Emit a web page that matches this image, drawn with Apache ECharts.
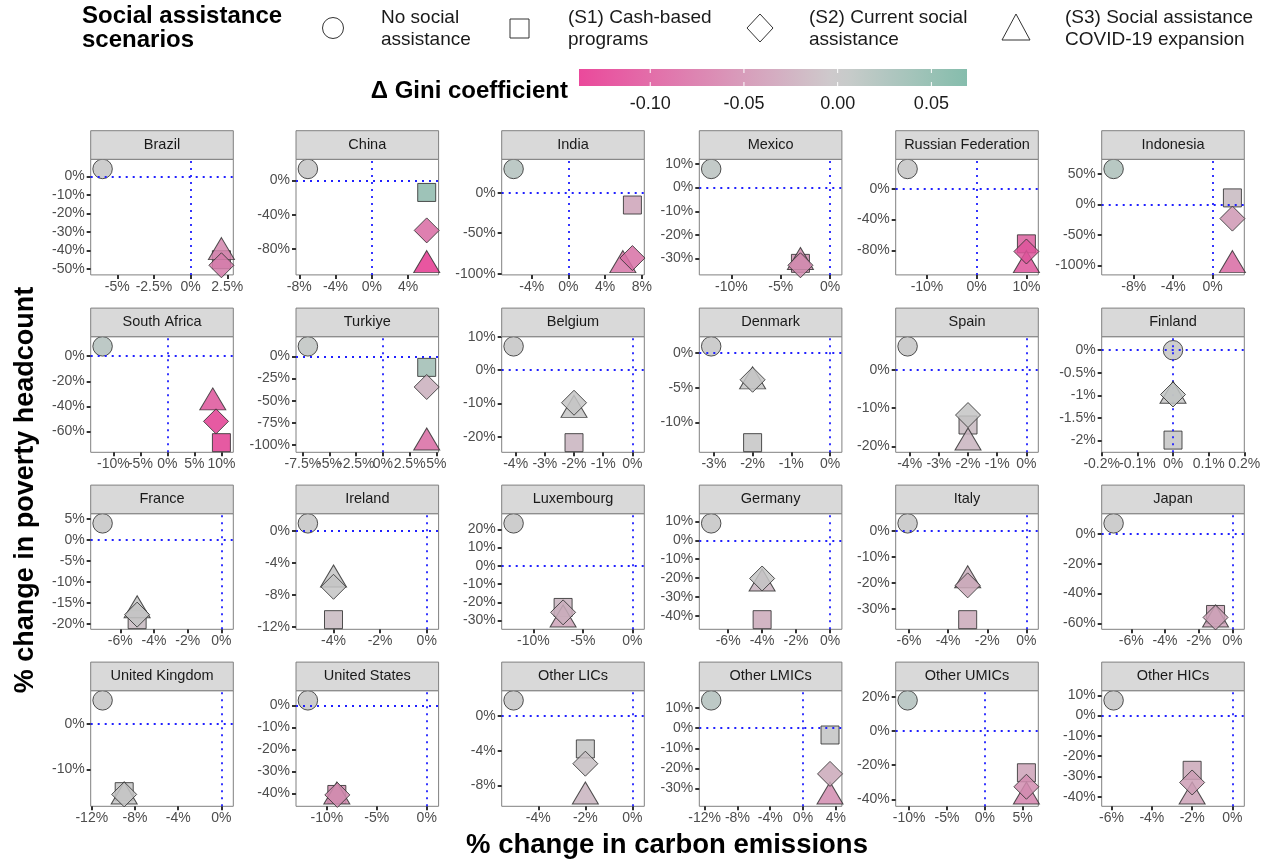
<!DOCTYPE html>
<html>
<head>
<meta charset="utf-8">
<script src="https://cdn.jsdelivr.net/npm/echarts@6/dist/echarts.min.js"></script>
<style>
  html, body { margin: 0; padding: 0; background: #ffffff; }
  #chart { width: 1265px; height: 863px; }
</style>
</head>
<body>
<div id="chart"></div>
<script>
// Panels, in facet order (6 per row)
const countries = [
  'Brazil', 'China', 'India', 'Mexico', 'Russian Federation', 'Indonesia',
  'South Africa', 'Turkiye', 'Belgium', 'Denmark', 'Spain', 'Finland',
  'France', 'Ireland', 'Luxembourg', 'Germany', 'Italy', 'Japan',
  'United Kingdom', 'United States', 'Other LICs', 'Other LMICs', 'Other UMICs', 'Other HICs'
];

// Each entry: [% change in carbon emissions, % change in poverty headcount, Δ Gini]
const noAssistance = [
  [-6.0, 4.0, 0.0], [-7.05, 13.5, 0.0], [-5.97, 29.3, 0.015], [-12.05, 7.9, 0.01], [-13.9, 25.5, 0.0], [-10.04, 58.0, 0.02],
  [-12.0, 7.9, 0.015], [-7.03, 11.3, 0.005], [-4.07, 7.15, 0.0], [-3.07, 0.96, 0.0], [-4.07, 6.1, 0.0], [0.0, 0.0, 0.0],
  [-7.05, 4.0, 0.0], [-5.1, 0.92, 0.0], [-12.0, 23.3, 0.0], [-7.0, 9.0, 0.0], [-6.07, 2.8, 0.0], [-7.05, 7.2, 0.0],
  [-11.0, 5.2, 0.0], [-11.9, 2.3, 0.0], [-5.05, 1.8, 0.0], [-11.2, 13.8, 0.015], [-10.2, 18.0, 0.015], [-5.9, 7.5, 0.0]
];
const cashBased = [
  [2.1, -45.0, -0.06], [6.05, -14.0, 0.045], [6.97, -15.2, -0.03], [-3.0, -32.0, -0.045], [10.0, -71.3, -0.09], [2.0, 10.5, -0.01],
  [10.0, -69.0, -0.12], [4.1, -12.4, 0.03], [-2.0, -21.8, -0.015], [-2.0, -12.9, 0.0], [-2.0, -14.4, -0.01], [0.0, -1.99, 0.0],
  [-5.0, -19.0, -0.01], [-4.0, -11.1, -0.01], [-7.0, -22.8, -0.015], [-4.0, -42.0, -0.025], [-3.0, -34.0, -0.025], [-1.0, -54.0, -0.03],
  [-9.0, -14.9, 0.0], [-9.0, -40.5, -0.05], [-2.0, -3.8, 0.0], [3.3, -3.4, 0.002], [5.5, -24.4, -0.03], [-2.0, -27.0, -0.025]
];
const currentAssistance = [
  [2.1, -48.0, -0.065], [6.05, -58.4, -0.08], [6.97, -80.6, -0.075], [-3.0, -32.8, -0.05], [10.0, -81.2, -0.1], [2.0, -23.5, -0.04],
  [9.0, -52.0, -0.12], [4.1, -34.5, -0.02], [-2.0, -9.8, 0.0], [-2.0, -3.85, 0.0], [-2.0, -11.8, 0.0], [0.0, -0.98, 0.003],
  [-5.0, -17.8, 0.0], [-4.0, -7.0, 0.0], [-7.0, -25.5, -0.02], [-4.0, -20.2, 0.0], [-3.0, -20.9, -0.025], [-1.0, -56.0, -0.03],
  [-9.0, -15.5, 0.0], [-8.95, -40.7, -0.05], [-2.0, -5.5, -0.005], [3.3, -22.7, -0.025], [5.5, -32.6, -0.05], [-2.0, -33.0, -0.035]
];
const covidExpansion = [
  [2.1, -41.0, -0.055], [6.05, -99.2, -0.125], [5.93, -89.5, -0.07], [-3.0, -31.5, -0.05], [10.0, -99.0, -0.1], [2.0, -100.0, -0.08],
  [8.4, -37.0, -0.1], [4.1, -97.2, -0.08], [-2.0, -12.0, 0.0], [-2.0, -4.1, 0.0], [-2.0, -19.0, -0.015], [0.0, -1.01, 0.0],
  [-5.0, -16.8, 0.0], [-4.0, -6.1, 0.0], [-7.0, -29.5, -0.03], [-4.0, -22.9, -0.015], [-3.0, -19.0, -0.02], [-1.0, -57.5, -0.03],
  [-9.0, -16.0, 0.0], [-9.0, -41.5, -0.05], [-2.0, -9.3, -0.015], [3.3, -34.0, -0.05], [5.5, -38.4, -0.06], [-2.0, -40.0, -0.03]
];

// Tick values (labels are value + '%')
const xTicks = [
  [-5, -2.5, 0, 2.5], [-8, -4, 0, 4], [-4, 0, 4, 8], [-10, -5, 0], [-10, 0, 10], [-8, -4, 0],
  [-10, -5, 0, 5, 10], [-7.5, -5, -2.5, 0, 2.5, 5], [-4, -3, -2, -1, 0], [-3, -2, -1, 0], [-4, -3, -2, -1, 0], [-0.2, -0.1, 0, 0.1, 0.2],
  [-6, -4, -2, 0], [-4, -2, 0], [-10, -5, 0], [-6, -4, -2, 0], [-6, -4, -2, 0], [-6, -4, -2, 0],
  [-12, -8, -4, 0], [-10, -5, 0], [-4, -2, 0], [-12, -8, -4, 0, 4], [-10, -5, 0, 5], [-6, -4, -2, 0]
];
const yTicks = [
  [0, -10, -20, -30, -40, -50], [0, -40, -80], [0, -50, -100], [10, 0, -10, -20, -30], [0, -40, -80], [50, 0, -50, -100],
  [0, -20, -40, -60], [0, -25, -50, -75, -100], [10, 0, -10, -20], [0, -5, -10], [0, -10, -20], [0, -0.5, -1, -1.5, -2],
  [5, 0, -5, -10, -15, -20], [0, -4, -8, -12], [20, 10, 0, -10, -20, -30], [10, 0, -10, -20, -30, -40], [0, -10, -20, -30], [0, -20, -40, -60],
  [0, -10], [0, -10, -20, -30, -40], [0, -4, -8], [10, 0, -10, -20, -30], [20, 0, -20, -40], [10, 0, -10, -20, -30, -40]
];

const giniTicks = [-0.10, -0.05, 0.00, 0.05];
const giniLimits = [-0.138, 0.069];

// ---- layout -------------------------------------------------------------
const FONT = '"Liberation Sans", Arial, Helvetica, sans-serif';
const colLeft = [90.7, 296, 501.7, 699.3, 895.7, 1101.7];
const rowTop = [159.3, 336.7, 513.7, 690.7];
const panelW = 142.6, panelH = 115.6, stripH = 28.6;
const tickLen = 4;

// Panels whose values all coincide on one axis get a fixed window
const fixedRange = { Finland: { x: [-0.2, 0.2], y: [-2.26, 0.3] } };

// Data extent (always including the zero reference lines) padded by 10%
function paddedRange(values) {
  const lo = Math.min(0, ...values), hi = Math.max(0, ...values);
  const pad = (hi - lo) * 0.1;
  return [lo - pad, hi + pad];
}

// Colour scale for Δ Gini: pink (falls) – grey – green (rises)
const scaleColors = ['#E7298A', '#C4C4C4', '#1B9E77'];
const scaleMax = 0.138;
function hex(c) { return [1, 3, 5].map(k => parseInt(c.slice(k, k + 2), 16)); }
function colourAt(v) {
  const t = Math.max(0, Math.min(1, (v + scaleMax) / (2 * scaleMax))) * 2;
  const i = Math.min(1, Math.floor(t)), f = t - i;
  const a = hex(scaleColors[i]), b = hex(scaleColors[i + 1]);
  return 'rgb(' + a.map((x, k) => Math.round(x + (b[k] - x) * f)).join(',') + ')';
}

const scenarios = [
  { name: 'No social assistance', data: noAssistance, symbol: 'circle', size: 19.5, offset: [0, 0], z: 3 },
  { name: '(S1) Cash-based programs', data: cashBased, symbol: 'rect', size: 18, offset: [0, 0], z: 4 },
  { name: '(S3) Social assistance COVID-19 expansion', data: covidExpansion, symbol: 'triangle', size: [26, 22], offset: [0, -22 / 6], z: 5 },
  { name: '(S2) Current social assistance', data: currentAssistance, symbol: 'diamond', size: 25, offset: [0, 0], z: 6 }
];

const pct = v => v + '%';
const grid = [], xAxis = [], yAxis = [], series = [], graphic = [], pointSeries = [], ranges = [];

const txt = (x, y, text, font, extra) => ({
  type: 'text', x: x, y: y, z: 20,
  style: Object.assign({ text: text, font: font, fill: '#1a1a1a', align: 'left', verticalAlign: 'top', textAlign: 'left', textVerticalAlign: 'top' }, extra || {})
});

countries.forEach((name, i) => {
  const col = i % 6, row = Math.floor(i / 6);
  const left = colLeft[col], top = rowTop[row];
  grid.push({
    left: left, top: top, width: panelW, height: panelH,
    show: true, backgroundColor: '#ffffff', borderColor: '#808080', borderWidth: 1
  });
  const xr = (fixedRange[name] && fixedRange[name].x) || paddedRange(scenarios.map(s => s.data[i][0]));
  const yr = (fixedRange[name] && fixedRange[name].y) || paddedRange(scenarios.map(s => s.data[i][1]));
  ranges.push({ x: xr, y: yr });
  const tick = { show: true, length: tickLen, lineStyle: { color: '#333333', width: 2 } };
  xAxis.push({
    type: 'value', gridIndex: i, min: xr[0], max: xr[1], position: 'bottom',
    axisLine: { show: false, onZero: false }, splitLine: { show: false },
    axisTick: Object.assign({ customValues: xTicks[i] }, tick), axisLabel: { show: false }
  });
  yAxis.push({
    type: 'value', gridIndex: i, min: yr[0], max: yr[1], position: 'left',
    axisLine: { show: false, onZero: false }, splitLine: { show: false },
    axisTick: Object.assign({ customValues: yTicks[i] }, tick), axisLabel: { show: false }
  });

  // dotted zero reference lines
  series.push({
    type: 'scatter', xAxisIndex: i, yAxisIndex: i, data: [], silent: true, z: 2,
    markLine: {
      silent: true, symbol: 'none', label: { show: false }, emphasis: { disabled: true },
      lineStyle: { color: '#2020ff', type: [2, 5], width: 1.8 },
      data: [{ xAxis: 0 }, { yAxis: 0 }]
    }
  });

  scenarios.forEach(s => {
    pointSeries.push(series.length);
    series.push({
      type: 'scatter', name: s.name, xAxisIndex: i, yAxisIndex: i, z: s.z,
      symbol: s.symbol, symbolSize: s.size, symbolOffset: s.offset,
      data: [s.data[i]],
      itemStyle: { borderColor: '#333333', borderWidth: 1, opacity: 0.85 },
      emphasis: { disabled: true }
    });
  });

  // facet strip
  graphic.push({
    type: 'rect', shape: { x: left, y: top - stripH, width: panelW, height: stripH },
    style: { fill: '#d9d9d9', stroke: '#808080', lineWidth: 1 }, z: 10
  });
  graphic.push({
    type: 'text', x: left + panelW / 2, y: top - stripH / 2, z: 11,
    style: { text: name, font: '14.5px ' + FONT, fill: '#1a1a1a', align: 'center', verticalAlign: 'middle', textAlign: 'center', textVerticalAlign: 'middle' }
  });
});

// ---- legend: scenario shapes ---------------------------------------------
const keyStyle = { fill: '#ffffff', stroke: '#333333', lineWidth: 1 };
graphic.push(txt(82, 4, 'Social assistance\nscenarios', 'bold 24px ' + FONT, { lineHeight: 24, fill: '#000000' }));
graphic.push({ type: 'circle', shape: { cx: 333, cy: 28, r: 10.5 }, style: keyStyle, z: 20 });
graphic.push(txt(381, 7, 'No social\nassistance', '19px ' + FONT, { lineHeight: 22 }));
graphic.push({ type: 'rect', shape: { x: 510, y: 19, width: 19, height: 19 }, style: keyStyle, z: 20 });
graphic.push(txt(568, 7, '(S1) Cash-based\nprograms', '19px ' + FONT, { lineHeight: 22 }));
graphic.push({ type: 'polygon', shape: { points: [[760, 14], [773, 28], [760, 42], [747, 28]] }, style: keyStyle, z: 20 });
graphic.push(txt(809, 7, '(S2) Current social\nassistance', '19px ' + FONT, { lineHeight: 22 }));
graphic.push({ type: 'polygon', shape: { points: [[1016, 14], [1030, 40], [1002, 40]] }, style: keyStyle, z: 20 });
graphic.push(txt(1065, 7, '(S3) Social assistance\nCOVID-19 expansion', '19px ' + FONT, { lineHeight: 22 }));

// ---- legend: Δ Gini colour bar -------------------------------------------
const barX0 = 579, barX1 = 967, barY = 69, barH = 17;
const barPos = v => barX0 + (v - giniLimits[0]) / (giniLimits[1] - giniLimits[0]) * (barX1 - barX0);
const stops = [];
for (let k = 0; k <= 20; k++) {
  const v = giniLimits[0] + (giniLimits[1] - giniLimits[0]) * k / 20;
  stops.push({ offset: k / 20, color: colourAt(v) });
}
graphic.push({
  type: 'rect', shape: { x: barX0, y: barY, width: barX1 - barX0, height: barH }, z: 20,
  style: { fill: { type: 'linear', x: 0, y: 0, x2: 1, y2: 0, colorStops: stops }, opacity: 0.85 }
});
giniTicks.forEach(v => {
  const x = barPos(v);
  graphic.push({ type: 'line', shape: { x1: x, y1: barY, x2: x, y2: barY + 4 }, style: { stroke: '#ffffff', lineWidth: 1 }, z: 21 });
  graphic.push({ type: 'line', shape: { x1: x, y1: barY + barH - 4, x2: x, y2: barY + barH }, style: { stroke: '#ffffff', lineWidth: 1 }, z: 21 });
  graphic.push(txt(x, 104, v.toFixed(2), '18px ' + FONT, { align: 'center', textAlign: 'center', verticalAlign: 'middle', textVerticalAlign: 'middle' }));
});
graphic.push(txt(568, 91, 'Δ Gini coefficient', 'bold 24px ' + FONT, { fill: '#000000', align: 'right', textAlign: 'right', verticalAlign: 'middle', textVerticalAlign: 'middle' }));

// ---- axis titles -----------------------------------------------------------
graphic.push(txt(667, 845, '% change in carbon emissions', 'bold 27.5px ' + FONT, { fill: '#000000', align: 'center', textAlign: 'center', verticalAlign: 'middle', textVerticalAlign: 'middle' }));
graphic.push({
  type: 'text', x: 26, y: 490, rotation: Math.PI / 2, z: 20,
  style: { text: '% change in poverty headcount', font: 'bold 27px ' + FONT, fill: '#000000', align: 'center', verticalAlign: 'middle', textAlign: 'center', textVerticalAlign: 'middle' }
});

const chart = echarts.init(document.getElementById('chart'));
chart.setOption({
  animation: false,
  backgroundColor: '#ffffff',
  grid: grid,
  xAxis: xAxis,
  yAxis: yAxis,
  visualMap: {
    type: 'continuous', show: false, dimension: 2,
    min: -scaleMax, max: scaleMax,
    seriesIndex: pointSeries,
    inRange: { color: scaleColors }
  },
  series: series,
  graphic: graphic
});

// Tick labels: every label is kept (crowded neighbours included), each placed at its
// tick through the panel's own axis scales.
const tickLabels = [];
const labelFont = '14px ' + FONT;
countries.forEach((name, i) => {
  const r = ranges[i], finder = { xAxisIndex: i, yAxisIndex: i };
  xTicks[i].forEach((v, k) => {
    const p = chart.convertToPixel(finder, [v, r.y[0]]);
    const el = txt(p[0], p[1] + 5, pct(v), labelFont, { fill: '#4d4d4d', align: 'center', textAlign: 'center' });
    el.id = 'xlab-' + i + '-' + k; el.z = 50;
    tickLabels.push(el);
  });
  yTicks[i].forEach((v, k) => {
    const p = chart.convertToPixel(finder, [r.x[0], v]);
    const el = txt(p[0] - 6, p[1], pct(v), labelFont, { fill: '#4d4d4d', align: 'right', textAlign: 'right', verticalAlign: 'middle', textVerticalAlign: 'middle' });
    el.id = 'ylab-' + i + '-' + k; el.z = 50;
    tickLabels.push(el);
  });
});
chart.setOption({ graphic: graphic.concat(tickLabels) });
</script>
</body>
</html>
